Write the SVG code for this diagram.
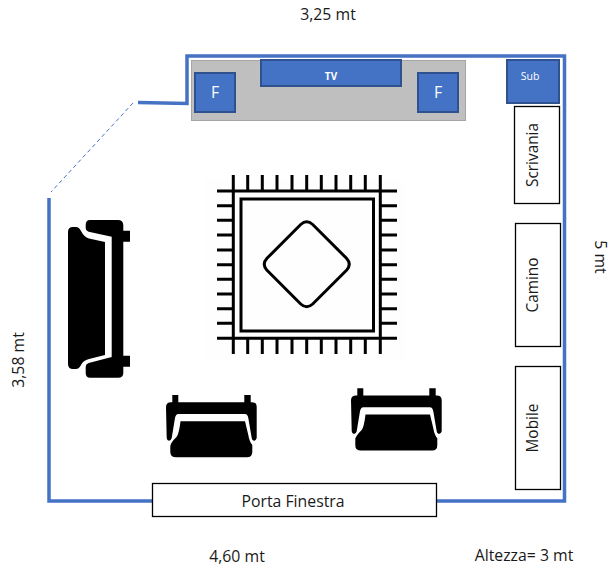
<svg xmlns="http://www.w3.org/2000/svg" width="615" height="574" viewBox="0 0 615 574">
<style>
text{font-family:"Open Sans","Noto Sans","Liberation Sans",sans-serif;fill:#1a1a1a;text-anchor:middle;font-size:15.800px}
.rot{font-size:15.400px}
.wall{fill:none;stroke:#4472c4;stroke-width:3.500}
.dash{fill:none;stroke:#4472c4;stroke-width:1;stroke-dasharray:4 3}
.blue{fill:#4472c4;stroke:#2f528f;stroke-width:2}
.white{fill:#fff;stroke:#000;stroke-width:1.300}
.rug{fill:none;stroke:#000;stroke-width:3}
</style>
<defs>
<g id="chair">
<path d="M172.300 395H178.300V402.300H244.300V395H250.700V402.300H252Q256.700 402.300 256.700 407V438Q256 440.700 254 440.700Q252 440.700 251.700 438L248.300 418Q247.500 414 245 414H178.300Q175.800 414 175 418L171.700 438Q171 440.700 169 440.700Q167 440.700 166.700 438L166 407Q166 402.300 171 402.300H172.300Z" fill="#000"/>
<path d="M180.500 421.300H245L248.300 435Q249.500 442 252.300 445V452Q252.300 457.300 247 457.300H176Q170.300 457.300 170.300 452V446Q170.300 443 176.700 436.700Q179 434 180.500 421.300Z" fill="#000"/>
</g>
</defs>
<g id="connectors">
<path class="wall" d="M138 102.500L187 103.500V56H564.500V501H437"/>
<path class="wall" d="M49 198V501H152"/>
<path class="dash" d="M133 103L51 192"/>
</g>
<g id="tv-stand"><rect x="191.500" y="60.500" width="274" height="60" fill="#bfbfbf" stroke="#a5a5a5" stroke-width="1"/></g>
<g id="tv"><rect class="blue" x="261" y="60" width="140" height="26"/><text x="331" y="80" style="fill:#fff;font-size:10px;font-weight:700">TV</text></g>
<g id="speaker-left"><rect class="blue" x="195" y="73" width="40" height="39"/><text x="215" y="98" style="fill:#fff">F</text></g>
<g id="speaker-right"><rect class="blue" x="418" y="73" width="40" height="39"/><text x="438" y="98" style="fill:#fff">F</text></g>
<g id="sub"><rect class="blue" x="507" y="60" width="52" height="43"/><text x="530" y="80" style="fill:#fff;font-size:10.500px">Sub</text></g>
<g id="scrivania"><rect class="white" x="514.500" y="106.500" width="45" height="97"/><text class="rot" transform="translate(538 155) rotate(-90)">Scrivania</text></g>
<g id="camino"><rect class="white" x="515.500" y="223.500" width="45" height="123"/><text class="rot" transform="translate(538 285) rotate(-90)">Camino</text></g>
<g id="mobile"><rect class="white" x="515.500" y="366.500" width="45" height="123"/><text class="rot" transform="translate(538 428) rotate(-90)">Mobile</text></g>
<g id="porta-finestra"><rect class="white" x="152.500" y="483.500" width="284" height="33"/><text x="293" y="507">Porta Finestra</text></g>
<g id="rug">
<rect x="205" y="178" width="200" height="182" fill="#fefefe"/>
<rect class="rug" x="241" y="199" width="132.500" height="132"/>
<path class="rug" d="M233.300 175V354M380.300 175V354M217 191H397M217 338.300H397"/>
<path class="rug" d="M247.700 175V191M262.300 175V191M277 175V191M292 175V191M306.700 175V191M321.300 175V191M336 175V191M350.700 175V191M365.300 175V191M247.700 338V354M262.300 338V354M277 338V354M292 338V354M306.700 338V354M321.300 338V354M336 338V354M350.700 338V354M365.300 338V354M217 205.700H233M217 220.300H233M217 235H233M217 250H233M217 264.700H233M217 279.300H233M217 294H233M217 308.700H233M217 323.300H233M380 205.700H397M380 220.300H397M380 235H397M380 250H397M380 264.700H397M380 279.300H397M380 294H397M380 308.700H397M380 323.300H397"/>
<path class="rug" d="M300.700 224.500Q306.700 219 312.700 224.500L346.500 258.300Q352 264.300 346.500 270.300L312.700 304Q306.700 309.500 300.700 304L267 270.300Q261.500 264.300 267 258.300Z"/>
</g>
<g id="sofa">
<path d="M73 227h3q3 0 5 4 3 6 8 7.500l16 3.500v113l-16 4q-6 1.500-8 6-2 4-5 4h-3q-5 0-5-5V232q0-5 5-5z" fill="#000"/>
<path d="M90 220h28q5 0 5.300 5v5.700H130v11h-6.700v114H130v11h-6.700V373q0 4.700-5 4.700H90q-4.300 0-4.300-4.700v-6q0-3 3-4l23-6V236.700l-23-5q-3-1-3-3.700V225q0-5 4.300-5z" fill="#000"/>
</g>
<g id="chair-left"><use href="#chair"/></g>
<g id="chair-right"><use href="#chair" transform="translate(185 -6.700)"/></g>
<g id="labels">
<text x="328" y="20">3,25 mt</text>
<text transform="translate(595 257) rotate(90)">5 mt</text>
<text transform="translate(24 360) rotate(-90)">3,58 mt</text>
<text x="237" y="562">4,60 mt</text>
<text x="524" y="561">Altezza= 3 mt</text>
</g>
</svg>
